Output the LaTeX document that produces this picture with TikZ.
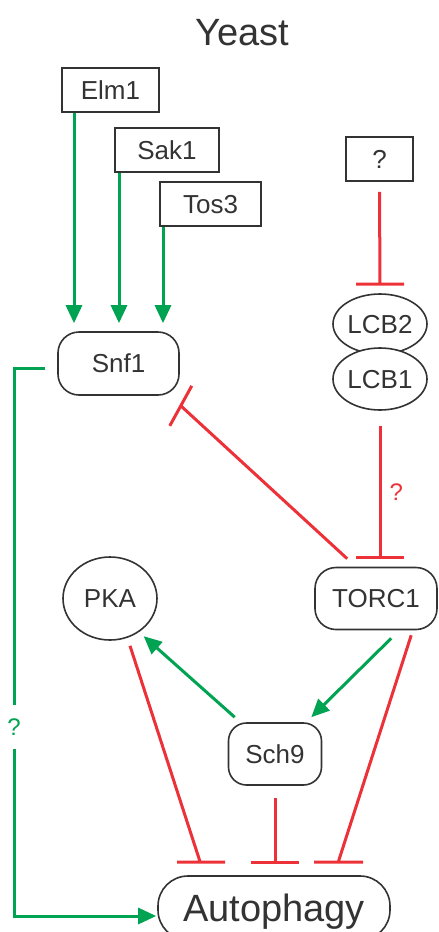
\documentclass[tikz,border=0pt]{standalone}
\usepackage{fontspec}
\setmainfont{Liberation Sans}
\usetikzlibrary{arrows.meta,shapes.geometric,calc}
\definecolor{grn}{RGB}{0,163,82}
\definecolor{rd}{RGB}{236,50,56}
\definecolor{ink}{RGB}{51,51,51}
\begin{document}
\begin{tikzpicture}[x=1pt,y=-1pt,
  lbl/.style={font=\fontsize{26}{30}\selectfont, text=ink, text height=18.6pt, text depth=0pt, inner sep=0pt, line width=1.6pt, draw=ink},
  sqbox/.style={lbl, rectangle},
  rbox/.style={lbl, rectangle, rounded corners=21pt},
  ell/.style={lbl, ellipse, fill=white},
  gar/.style={draw=grn, line width=3pt, -{Triangle[length=18pt,width=16pt]}},
  rl/.style={draw=rd, line width=3pt},
  qlab/.style={font=\fontsize{24}{28}\selectfont, inner sep=0pt}
]
\useasboundingbox (0,0) rectangle (439,932);
% title
\node[font=\fontsize{38}{44}\selectfont, text=ink, anchor=base, inner sep=0pt] (title) at (242,45) {Yeast};
% nodes
\node[sqbox, minimum width=97pt, minimum height=44pt] (Elm1) at (110.5,90) {Elm1};
\node[sqbox, minimum width=104pt, minimum height=44pt] (Sak1) at (167,150) {Sak1};
\node[sqbox, minimum width=101pt, minimum height=44pt] (Tos3) at (210.5,204) {Tos3};
\node[sqbox, minimum width=67pt, minimum height=44pt] (q) at (379.5,159) {?};
\node[ell, minimum width=94pt, minimum height=60pt] (LCB2) at (380,324) {LCB2};
\node[ell, minimum width=94pt, minimum height=62pt] (LCB1) at (380,379) {LCB1};
\node[rbox, minimum width=121pt, minimum height=63pt] (Snf1) at (118.5,363.5) {Snf1};
\node[rbox, minimum width=122pt, minimum height=62pt] (TORC1) at (376,598.5) {TORC1};
\node[lbl, ellipse, minimum width=94pt, minimum height=83pt] (PKA) at (110,598.5) {PKA};
\node[rbox, minimum width=93pt, minimum height=62pt, rounded corners=18pt] (Sch9) at (275,754) {Sch9};
\node[rbox, minimum width=232pt, minimum height=64pt, rounded corners=30pt,
      font=\fontsize{38}{44}\selectfont, text height=27pt] (Auto) at (274,908) {Autophagy};
% x positions of the kinase arrows
\coordinate (xe) at (74,0);
\coordinate (xs) at (119,0);
\coordinate (xt) at (163,0);
\draw[gar, shorten >=8pt] (Elm1.south -| xe) -- (Snf1.north -| xe);
\draw[gar, shorten >=8pt] (Sak1.south -| xs) -- (Snf1.north -| xs);
\draw[gar, shorten >=8pt] (Tos3.south -| xt) -- (Snf1.north -| xt);
% ? -| LCB2
\draw[rl] ([shift={(0,10)}]q.south) -- ([shift={(0,-9)}]LCB2.north) ++(-24,0) -- ++(48,0);
% LCB1 -| TORC1
\draw[rl] ([shift={(0,15)}]LCB1.south) -- node[qlab, text=rd, right=8pt, pos=0.5] {?} ([shift={(4,-9)}]TORC1.north) ++(-24,0) -- ++(48,0);
% TORC1 -| Snf1
\draw[rl] ([shift={(33,-8)}]TORC1.north west) -- ([shift={(1,10)}]Snf1.south east) ++(-11,20) -- ++(22,-40);
% Snf1 -> Autophagy (?)
\draw[gar] ([shift={(-12,4.5)}]Snf1.west) -- (14,368) -- node[qlab, text=grn, fill=white, minimum height=44pt, pos=0.655] {?} (14,916) -- ([shift={(-1,8)}]Auto.west);
% Sch9 -> PKA
\draw[gar] ([shift={(7,-5)}]Sch9.north west) -- ([shift={(2,6)}]PKA.-45);
% TORC1 -> Sch9
\draw[gar] ([shift={(77,8)}]TORC1.south west) -- ([shift={(-11,-5)}]Sch9.north east);
% inhibitions of autophagy
\draw[rl] ([shift={(20,5)}]PKA.south) -- ([shift={(43,-13)}]Auto.north west) ++(-23,0) -- ++(48,0);
\draw[rl] ([shift={(0,12)}]Sch9.south) -- ([shift={(1,-13)}]Auto.north) ++(-24,0) -- ++(48,0);
\draw[rl] ([shift={(97,5)}]TORC1.south west) -- ([shift={(181,-13)}]Auto.north west) ++(-24,0) -- ++(49,0);
\end{tikzpicture}
\end{document}
